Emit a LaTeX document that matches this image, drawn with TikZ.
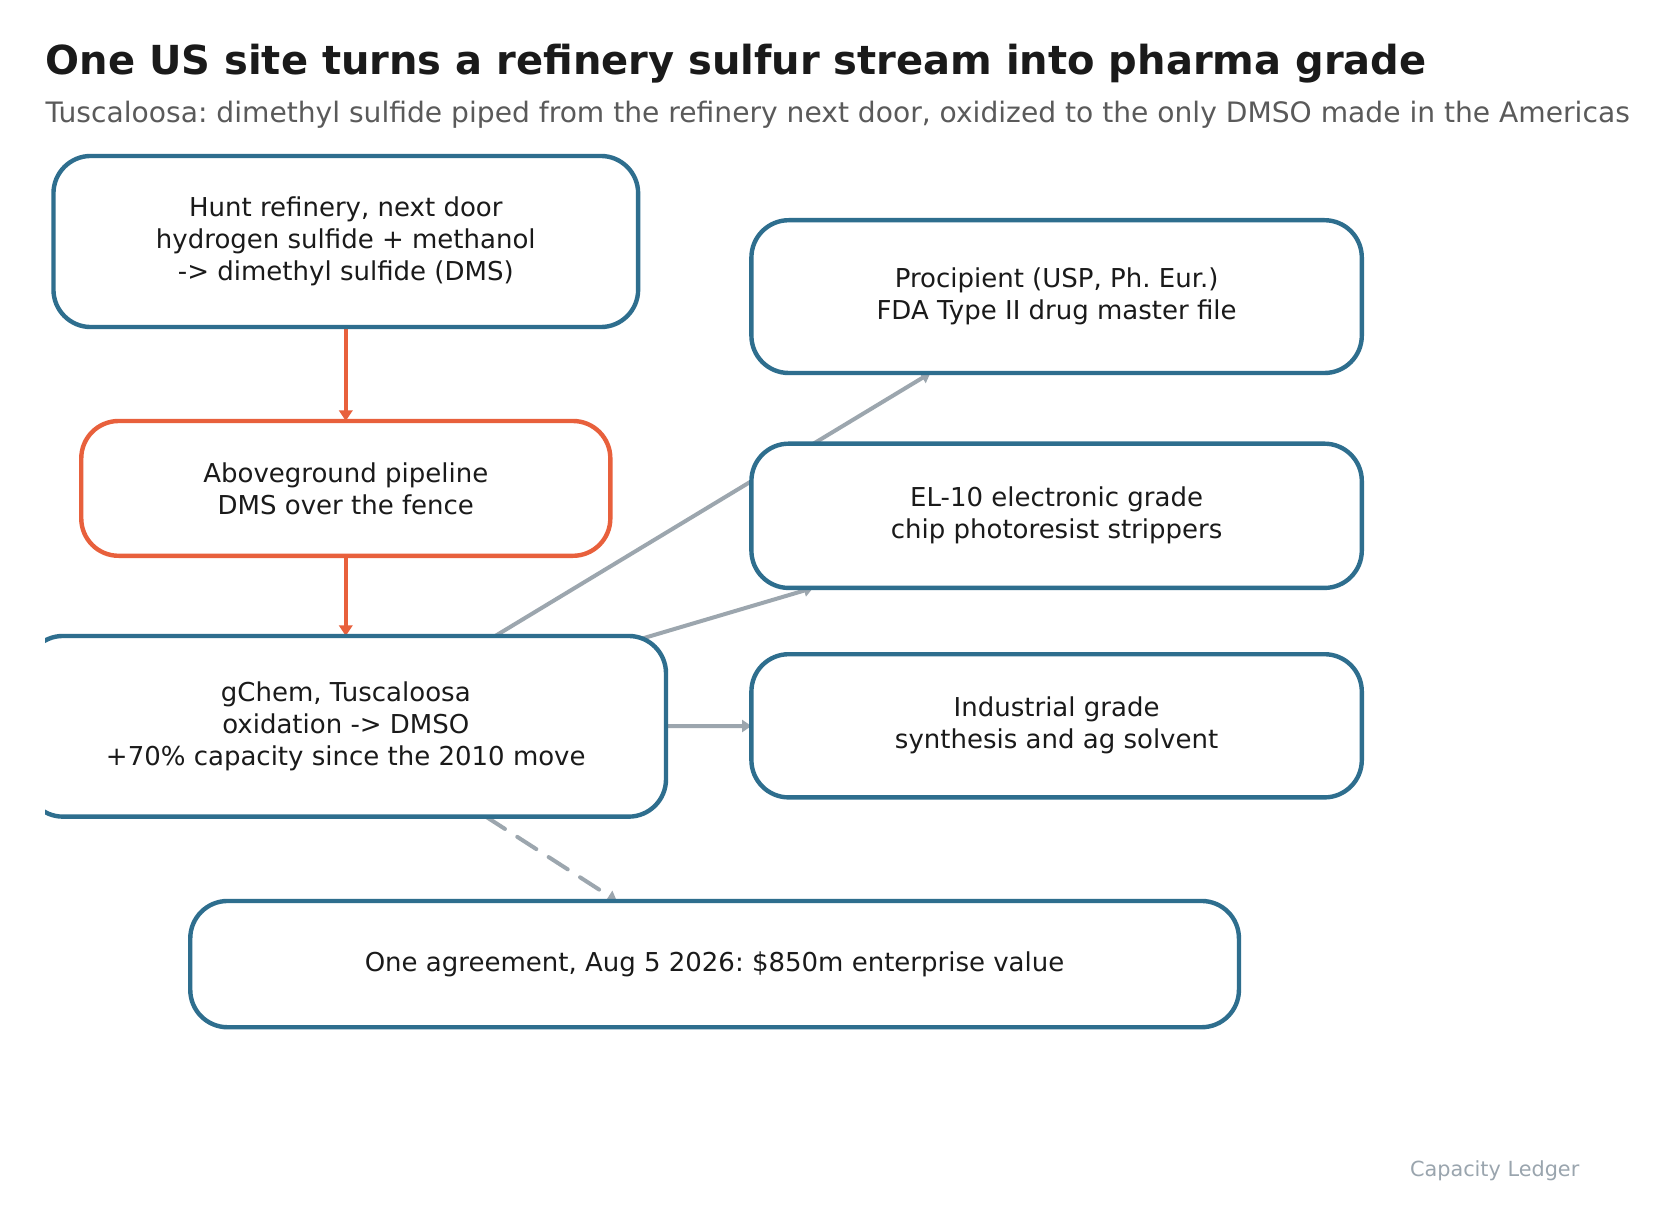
\documentclass[tikz,border=0pt]{standalone}
\usepackage{fontspec}
\setmainfont{DejaVu Sans}
\usetikzlibrary{arrows.meta}
\definecolor{boxblue}{HTML}{2E6E8E}
\definecolor{pipeorange}{HTML}{E8603C}
\definecolor{linkgray}{HTML}{9CA6AE}
\definecolor{titleink}{HTML}{1A1A1A}
\definecolor{subink}{HTML}{5A5A5A}
\definecolor{footink}{HTML}{9AA5AE}
\pgfdeclarelayer{background}
\pgfsetlayers{background,main}
\frenchspacing
\tikzset{
  card/.style={draw=boxblue, line width=3.3pt, rounded corners=28pt, fill=white,
    align=center, inner sep=0pt, outer sep=0pt, text=titleink,
    font=\fontsize{19.5pt}{24pt}\selectfont},
  pipecard/.style={card, draw=pipeorange},
  flow/.style={draw=pipeorange, line width=3pt, -{Triangle[length=8pt,width=10pt]}},
  link/.style={draw=linkgray, line width=3pt, -{Triangle[length=7pt,width=9pt]}},
  linkdash/.style={link, dash pattern=on 17pt off 11pt, line cap=round},
}
\begin{document}
\begin{tikzpicture}[x=0.75pt,y=-0.75pt]
\useasboundingbox (0,0) rectangle (1676,1226);

\node[anchor=base west, text=titleink, font=\fontsize{30pt}{36pt}\selectfont\bfseries] (title) at (41,75)
  {One US site turns a refinery sulfur stream into pharma grade};
\node[anchor=base west, text=subink, font=\fontsize{21.1pt}{25pt}\selectfont] (subtitle) at (41,123)
  {Tuscaloosa: dimethyl sulfide piped from the refinery next door, oxidized to the only DMSO made in the Americas};

\node[card, minimum width=438.5pt, minimum height=128.3pt] (hunt) at (345.8,241.5)
  {Hunt refinery, next door\\hydrogen sulfide + methanol\\-> dimethyl sulfide (DMS)};
\node[pipecard, minimum width=396.8pt, minimum height=101.1pt] (pipe) at (345.8,488.4)
  {Aboveground pipeline\\DMS over the fence};
\begin{scope}
  \clip (45,0) rectangle (1676,1226);
  \node[card, minimum width=480.3pt, minimum height=135.5pt] (gchem) at (345.8,726.3)
    {gChem, Tuscaloosa\\oxidation -> DMSO\\+70\% capacity since the 2010 move};
\end{scope}
\node[card, minimum width=457.8pt, minimum height=114.6pt] (procip) at (1056.6,296.6)
  {Procipient (USP, Ph. Eur.)\\FDA Type II drug master file};
\node[card, minimum width=457.8pt, minimum height=108.2pt] (el10) at (1056.6,515.8)
  {EL-10 electronic grade\\chip photoresist strippers};
\node[card, minimum width=457.8pt, minimum height=107.4pt] (indus) at (1056.6,725.8)
  {Industrial grade\\synthesis and ag solvent};
\node[card, minimum width=786.5pt, minimum height=94.7pt] (deal) at (714.6,964.1)
  {One agreement, Aug 5 2026: \$850m enterprise value};

\node[anchor=base east, text=footink, font=\fontsize{15.6pt}{19pt}\selectfont] (foot) at (1584,1176)
  {Capacity Ledger};

\begin{pgfonlayer}{background}
  \fill[white] (0,0) rectangle (1676,1226);
  \draw[flow] (hunt) -- (pipe);
  \draw[flow] (pipe) -- (gchem);
  \draw[link] (gchem.center) -- (procip);
  \draw[link] (gchem.center) -- (el10);
  \draw[link] (gchem.center) -- (indus);
  \draw[linkdash] (gchem) -- (deal);
\end{pgfonlayer}
\end{tikzpicture}
\end{document}
